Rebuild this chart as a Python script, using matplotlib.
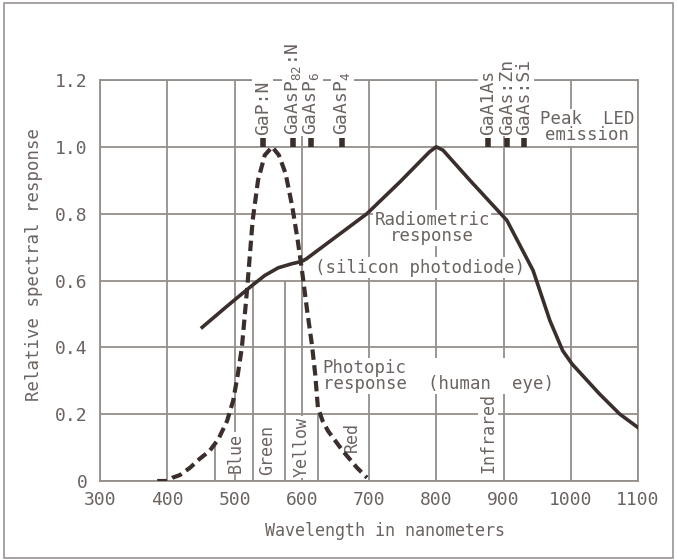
import numpy as np
import matplotlib.pyplot as plt
from matplotlib.patches import Rectangle

# ---- data ----
radio_nm = [452, 490, 523, 545, 565, 585, 600, 607, 697, 746, 790, 800, 810,
            850, 905, 944, 969, 988, 1002, 1043, 1073, 1100]
radio_val = [0.46, 0.525, 0.58, 0.615, 0.638, 0.65, 0.657, 0.665, 0.80, 0.895, 0.985,
             1.0, 0.99, 0.90, 0.78, 0.63, 0.48, 0.39, 0.35, 0.26, 0.20, 0.16]

photo_nm = [385, 400, 408, 419, 434, 448, 463, 476, 489, 498, 505, 511, 519, 527,
            535, 545, 556, 566, 576, 586, 594, 601, 608, 615, 620, 624, 631, 639,
            661, 682, 697]
photo_val = [0.0, 0.0, 0.01, 0.018, 0.04, 0.066, 0.09, 0.125, 0.18, 0.24, 0.32,
             0.40, 0.58, 0.78, 0.90, 0.975, 1.0, 0.975, 0.92, 0.82, 0.72, 0.62,
             0.51, 0.41, 0.32, 0.22, 0.18, 0.15, 0.09, 0.04, 0.01]

x_ticks = [300, 400, 500, 600, 700, 800, 900, 1000, 1100]
y_ticks = [0, 0.2, 0.4, 0.6, 0.8, 1.0, 1.2]
y_ticklabels = ["0", "0.2", "0.4", "0.6", "0.8", "1.0", "1.2"]

band_edges = [471, 527, 575, 624]
band_tops = [0.12, 0.6, 0.6, 0.2]
band_names = ["Blue", "Green", "Yellow", "Red", "Infrared"]
band_pos = [501, 548, 600, 675, 877]
band_base = [0.024, 0.018, 0.012, 0.087, 0.024]

led_names = ["GaP:N", "GaAsP$_{82}$:N", "GaAsP$_6$", "GaAsP$_4$",
             "GaA1As", "GaAs:Zn", "GaAs:Si"]
led_peaks = [542, 587, 614, 660, 877, 905, 930]

# ---- style ----
TXT = "#6b6360"
INK = "#3a2f2c"
GRID = "#958f8a"
plt.rcParams["font.family"] = ["DejaVu Sans Mono"]
plt.rcParams["mathtext.fontset"] = "custom"
plt.rcParams["mathtext.rm"] = "DejaVu Sans Mono"
plt.rcParams["mathtext.it"] = "DejaVu Sans Mono"

fig = plt.figure(figsize=(6.78, 5.6), dpi=100)
ax = fig.add_axes([100 / 678, 1 - 481 / 560, 538 / 678, 401 / 560])

ax.set_xlim(300, 1100)
ax.set_ylim(0, 1.2)
ax.set_xticks(x_ticks)
ax.set_yticks(y_ticks)
ax.set_yticklabels(y_ticklabels)
ax.tick_params(length=0, labelsize=13, labelcolor=TXT)
ax.tick_params(axis="y", pad=9)
ax.tick_params(axis="x", pad=7)
ax.grid(True, color=GRID, linewidth=1.3, zorder=0)
for s in ax.spines.values():
    s.set_color(GRID)
    s.set_linewidth(1.3)

ax.set_xlabel("Wavelength in nanometers", fontsize=12, color=TXT, va="top")
ax.xaxis.set_label_coords(0.53, -0.102)
ax.set_ylabel("Relative spectral response", fontsize=12.5, color=TXT, va="center")
ax.yaxis.set_label_coords(-0.123, 0.54)

# colour band dividers
ax.vlines(band_edges, 0, band_tops, color=GRID, linewidth=1.3, zorder=0)

# curves
ax.plot(radio_nm, radio_val, color=INK, linewidth=2.6, zorder=4)
ax.plot(photo_nm, photo_val, color=INK, linewidth=3.0, linestyle=(0, (2.5, 1.3)), zorder=4)

box = dict(facecolor="white", edgecolor="none", pad=1)

for name, xp, yb in zip(band_names, band_pos, band_base):
    ax.text(xp, yb, name, rotation=90, ha="center", va="bottom",
            fontsize=12, color=TXT, bbox=box, zorder=2)

# LED emission peak markers
ax.vlines(led_peaks, 1.0, 1.027, color=INK, linewidth=4, zorder=5, clip_on=False)
for name, xp in zip(led_names, led_peaks):
    ax.text(xp, 1.036, name, rotation=90, ha="center", va="bottom", fontsize=13,
            color=TXT, bbox=box, zorder=3, clip_on=False)
ax.text(1024, 1.008, "Peak  LED\nemission", ha="center", va="bottom", fontsize=12.5,
        color=TXT, bbox=box, zorder=3, linespacing=0.85, multialignment="center")

ax.text(794, 0.757, "Radiometric\nresponse", ha="center", va="center", fontsize=12.5,
        color=TXT, bbox=box, zorder=2, linespacing=0.8)
ax.text(620, 0.638, "(silicon photodiode)", ha="left", va="center", fontsize=12.5,
        color=TXT, bbox=box, zorder=2)
ax.text(631, 0.314, "Photopic\nresponse  (human  eye)", ha="left", va="center",
        fontsize=12.5, color=TXT, bbox=box, zorder=2, linespacing=0.8)

# outer frame
fig.patches.append(Rectangle((0.006, 0.004), 0.986, 0.99, transform=fig.transFigure,
                             fill=False, edgecolor="#9a9490", linewidth=1.2))

fig.savefig("out.png", dpi=100)
